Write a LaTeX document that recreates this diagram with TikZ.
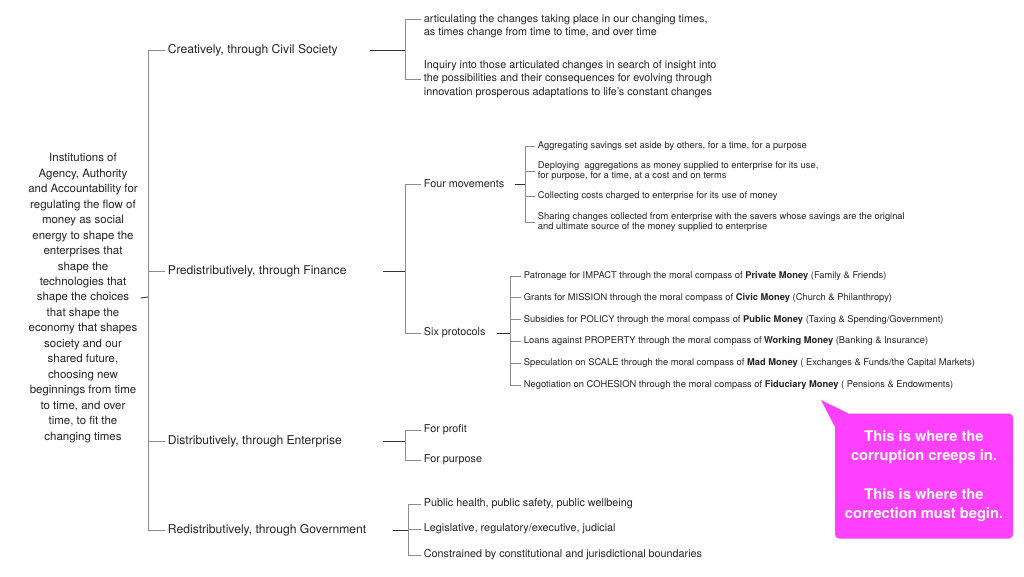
\documentclass[tikz,border=0pt]{standalone}
\usepackage{fontspec}
\setmainfont{TeX Gyre Heros}
\usepackage{xcolor}
\usepackage{tikz}
\usetikzlibrary{positioning,calc}
\definecolor{ink}{RGB}{35,35,35}
\definecolor{pinkbox}{RGB}{255,64,255}

\begin{document}
\begin{tikzpicture}[x=0.75pt, y=-0.75pt,
    every node/.style={text=ink, inner sep=2pt},
    root/.style={align=center, font=\fontsize{8.6}{11.6}\selectfont},
    big/.style={anchor=west, font=\fontsize{9.1}{11}\selectfont},
    mid/.style={anchor=west, align=left, font=\fontsize{8.1}{10.1}\selectfont},
    small/.style={anchor=west, align=left, font=\fontsize{7}{8.1}\selectfont},
    stem/.style={draw=black!80, line width=0.7pt},
    twig/.style={draw=black!45, line width=0.7pt}]
        \useasboundingbox (0,0) rectangle (1024,576);
        \node[root] (r) at (83,298) {Institutions of\\ Agency, Authority\\ and Accountability for\\ regulating the flow of\\ money as social\\ energy to shape the\\ enterprises that\\ shape the\\ technologies that\\ shape the choices\\ that shape the\\ economy that shapes\\ society and our\\ shared future,\\ choosing new\\ beginnings from time\\ to time, and over\\ time, to fit the\\ changing times};
        \coordinate (j0) at (148,297);
        \draw[stem] (r.east) -- (j0);
        \node[big] (c) at (165,50) {Creatively, through Civil Society};
        \node[big] (p) at (165,271) {Predistributively, through Finance};
        \node[big] (d) at (165,441) {Distributively, through Enterprise};
        \node[big] (g) at (165,530) {Redistributively, through Government};
        \foreach \n in {c,p,d,g} \draw[twig] (j0) |- (\n.west);

        % civil society
        \coordinate (cs) at (370,50);
        \coordinate (cj) at (405,50);
        \draw[stem] (cs) -- (cj);
        \node[mid] (c1) at (421,26) {articulating the changes taking place in our changing times,\\ as times change from time to time, and over time};
        \node[mid] (c2) at (421,79) {Inquiry into those articulated changes in search of insight into\\ the possibilities and their consequences for evolving through\\ innovation prosperous adaptations to life's constant changes};
        \draw[twig] (cj) |- ([yshift=5pt]c1.west);
        \draw[twig] (cj) |- (c2.west);

        % finance
        \coordinate (ps) at (383,271);
        \coordinate (pj) at (405,271);
        \draw[stem] (ps) -- (pj);
        \node[mid] (f) at (421,184) {Four movements};
        \node[mid] (s) at (421,333) {Six protocols};
        \draw[twig] (pj) |- (f.west);
        \draw[twig] (pj) |- (s.west);

        \coordinate (fs) at (515,184);
        \coordinate (fj) at (525,184);
        \draw[stem] (fs) -- (fj);
        \node[small] (f1) at (535,146) {Aggregating savings set aside by others, for a time, for a purpose};
        \node[small] (f2) at (535,171) {Deploying~ aggregations as money supplied to enterprise for its use,\\ for purpose, for a time, at a cost and on terms};
        \node[small] (f3) at (535,196) {Collecting costs charged to enterprise for its use of money};
        \node[small] (f4) at (535,222) {Sharing changes collected from enterprise with the savers whose savings are the original\\ and ultimate source of the money supplied to enterprise};
        \foreach \n in {f1,f2,f3,f4} \draw[twig] (fj) |- (\n.west);

        \coordinate (ss) at (497,333);
        \coordinate (sj) at (510,333);
        \draw[stem] (ss) -- (sj);
        \foreach \t [count=\i] in {%
            {Patronage for IMPACT through the moral compass of \textbf{Private Money} (Family \& Friends)},
            {Grants for MISSION through the moral compass of \textbf{Civic Money} (Church \& Philanthropy)},
            {Subsidies for POLICY through the moral compass of \textbf{Public Money} (Taxing \& Spending/Government)},
            {Loans against PROPERTY through the moral compass of \textbf{Working Money} (Banking \& Insurance)},
            {Speculation on SCALE through the moral compass of \textbf{Mad Money} ( Exchanges \& Funds/the Capital Markets)},
            {Negotiation on COHESION through the moral compass of \textbf{Fiduciary Money} ( Pensions \& Endowments)}} {
            \node[small] (s\i) at (521,254.2+21.8*\i) {\t};
            \draw[twig] (sj) |- (s\i.west);
        }

        % enterprise
        \coordinate (ds) at (383,441);
        \coordinate (dj) at (405,441);
        \draw[stem] (ds) -- (dj);
        \node[mid] (d1) at (421,430) {For profit};
        \node[mid] (d2) at (421,460) {For purpose};
        \draw[twig] (dj) |- (d1.west);
        \draw[twig] (dj) |- (d2.west);

        % government
        \coordinate (gs) at (393,530);
        \coordinate (gj) at (408,530);
        \draw[stem] (gs) -- (gj);
        \node[mid] (g1) at (421,504) {Public health, public safety, public wellbeing};
        \node[mid] (g2) at (421,529) {Legislative, regulatory/executive, judicial};
        \node[mid] (g3) at (421,555) {Constrained by constitutional and jurisdictional boundaries};
        \foreach \n in {g1,g2,g3} \draw[twig] (gj) |- (\n.west);

        % callout
        \node[fill=pinkbox, rounded corners=3pt, minimum width=133.5pt, minimum height=93.75pt, align=center, text=white, font=\fontsize{11}{14.4}\bfseries] (k) at (924,476) {This is where the\\ corruption creeps in.\\[14.4pt] This is where the\\ correction must begin.};
        \coordinate (tip) at (821,400);
        \fill[pinkbox] (tip) -- ([xshift=10pt]k.north west) -- ([yshift=-10pt]k.north west) -- cycle;
      \end{tikzpicture}
\end{document}
